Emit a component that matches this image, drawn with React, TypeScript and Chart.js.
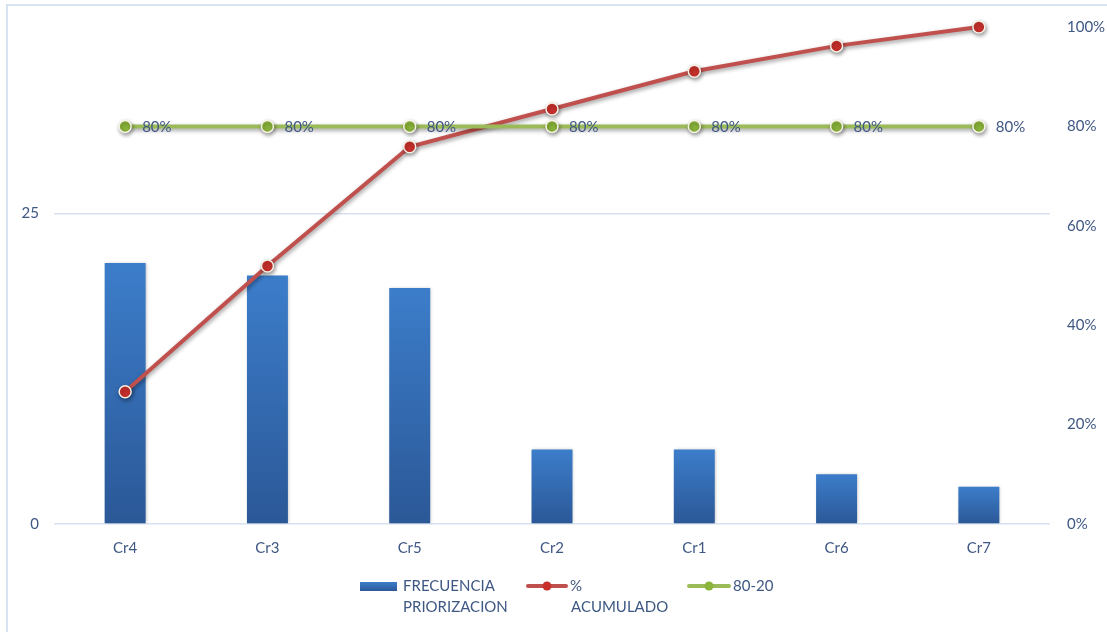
import React, { useEffect, useRef } from "react";
import { Chart, registerables } from "chart.js";

Chart.register(...registerables);

const categories = ["Cr4", "Cr3", "Cr5", "Cr2", "Cr1", "Cr6", "Cr7"];
const frecuencia = [21, 20, 19, 6, 6, 4, 3];
const acumulado = [0.266, 0.519, 0.759, 0.835, 0.911, 0.962, 1.0];
const linea8020 = [0.8, 0.8, 0.8, 0.8, 0.8, 0.8, 0.8];
const leftTickValues = [0, 25];
const seriesNames = [["FRECUENCIA", "PRIORIZACION"], ["%", "ACUMULADO"], ["80-20"]];

const TEXT = "#3e5783";
const FONT = "Lato";
const W = 1107;
const H = 632;

const shadowPlugin = {
  id: "shadowPlugin",
  beforeDatasetDraw(chart: any, args: any) {
    const ctx = chart.ctx;
    ctx.save();
    const type = chart.data.datasets[args.index].type;
    if (type === "line") {
      ctx.shadowColor = "rgba(0,0,0,0.4)";
      ctx.shadowBlur = 4;
      ctx.shadowOffsetY = 2;
      ctx.shadowOffsetX = 1;
    } else {
      ctx.shadowColor = "rgba(0,0,0,0.25)";
      ctx.shadowBlur = 3;
      ctx.shadowOffsetX = 1;
      ctx.shadowOffsetY = 0;
    }
  },
  afterDatasetDraw(chart: any) {
    chart.ctx.restore();
  },
};

const labelPlugin = {
  id: "labelPlugin",
  afterDatasetsDraw(chart: any) {
    const ctx = chart.ctx;
    const meta = chart.getDatasetMeta(2);
    ctx.save();
    ctx.font = `15px ${FONT}`;
    ctx.fillStyle = TEXT;
    ctx.textAlign = "left";
    ctx.textBaseline = "middle";
    meta.data.forEach((pt: any, i: number) => {
      ctx.fillText(Math.round(linea8020[i] * 100) + "%", pt.x + 17, pt.y + 1);
    });
    ctx.restore();
  },
};

const legendPlugin = {
  id: "customLegend",
  afterDraw(chart: any) {
    const ctx = chart.ctx;
    ctx.save();
    ctx.font = `15px ${FONT}`;
    ctx.fillStyle = TEXT;
    ctx.textAlign = "left";
    ctx.textBaseline = "middle";
    const y1 = 586;
    const y2 = 607;
    const g = ctx.createLinearGradient(0, 582, 0, 591);
    g.addColorStop(0, "#3c7dca");
    g.addColorStop(1, "#2b5897");
    ctx.fillStyle = g;
    ctx.fillRect(360, 582, 37, 9);
    ctx.fillStyle = TEXT;
    ctx.fillText(seriesNames[0][0], 403, y1);
    ctx.fillText(seriesNames[0][1], 403, y2);
    const drawLineSwatch = (x0: number, x1: number, color: string, dot: string) => {
      ctx.strokeStyle = color;
      ctx.lineWidth = 4;
      ctx.lineCap = "round";
      ctx.beginPath();
      ctx.moveTo(x0, y1);
      ctx.lineTo(x1, y1);
      ctx.stroke();
      ctx.beginPath();
      ctx.arc((x0 + x1) / 2, y1, 4.5, 0, Math.PI * 2);
      ctx.fillStyle = dot;
      ctx.fill();
    };
    drawLineSwatch(528, 566, "#c0504d", "#c9302c");
    ctx.fillStyle = TEXT;
    ctx.fillText(seriesNames[1][0], 570, y1);
    ctx.fillText(seriesNames[1][1], 571, y2);
    drawLineSwatch(689, 729, "#9bbb59", "#8ab43a");
    ctx.fillStyle = TEXT;
    ctx.fillText(seriesNames[2][0], 733, y1);
    ctx.restore();
  },
};

export default function App() {
  const ref = useRef<HTMLCanvasElement | null>(null);

  useEffect(() => {
    if (!ref.current) return;
    const chart = new Chart(ref.current, {
      type: "bar",
      data: {
        labels: categories,
        datasets: [
          {
            type: "bar",
            label: "FRECUENCIA PRIORIZACION",
            data: frecuencia,
            yAxisID: "y",
            order: 3,
            barPercentage: 1,
            categoryPercentage: 0.288,
            backgroundColor: (c: any) => {
              const chart = c.chart;
              if (!chart.chartArea || c.type !== "data") return "#3577c2";
              const ys = chart.scales.y;
              const top = ys.getPixelForValue(c.raw);
              const bottom = ys.getPixelForValue(0);
              const g = chart.ctx.createLinearGradient(0, top, 0, bottom);
              g.addColorStop(0, "#3c7dca");
              g.addColorStop(1, "#2b5897");
              return g;
            },
            borderWidth: 0,
          } as any,
          {
            type: "line",
            label: "% ACUMULADO",
            data: acumulado,
            yAxisID: "y2",
            order: 2,
            borderColor: "#c0504d",
            borderWidth: 4,
            pointRadius: 6,
            pointBorderWidth: 1.5,
            pointBackgroundColor: "#c9302c",
            pointBorderColor: "#f6efe4",
            tension: 0,
            clip: false,
          } as any,
          {
            type: "line",
            label: "80-20",
            data: linea8020,
            yAxisID: "y2",
            order: 1,
            borderColor: "#9bbb59",
            borderWidth: 4,
            pointRadius: 6,
            pointBorderWidth: 1.5,
            pointBackgroundColor: "#8ab43a",
            pointBorderColor: "#f6f3e4",
            tension: 0,
            clip: false,
          } as any,
        ],
      },
      options: {
        responsive: false,
        animation: false,
        layout: { padding: { top: 27, left: 0, right: 0, bottom: 0 } },
        plugins: {
          legend: { display: false },
          tooltip: { enabled: false },
        },
        scales: {
          x: {
            grid: { display: false, drawTicks: false },
            border: { display: false },
            ticks: { color: TEXT, font: { family: FONT, size: 15 }, padding: 15 },
            afterFit: (s: any) => {
              s.height = H - 524;
            },
          },
          y: {
            position: "left",
            min: 0,
            max: 40,
            afterBuildTicks: (s: any) => {
              s.ticks = leftTickValues.map((v) => ({ value: v }));
            },
            grid: { color: "#d7e1ef", lineWidth: 1.5, drawTicks: false },
            border: { display: false },
            ticks: { color: TEXT, font: { family: FONT, size: 15 }, padding: 15 },
            afterFit: (s: any) => {
              s.width = 54;
            },
          },
          y2: {
            position: "right",
            min: 0,
            max: 1,
            grid: { display: false, drawTicks: false },
            border: { display: false },
            ticks: {
              stepSize: 0.2,
              color: TEXT,
              font: { family: FONT, size: 15 },
              padding: 17,
              callback: (v: any) => Math.round(Number(v) * 100) + "%",
            },
            afterFit: (s: any) => {
              s.width = W - 1050;
            },
          },
        },
      } as any,
      plugins: [shadowPlugin, labelPlugin, legendPlugin],
    });
    return () => chart.destroy();
  }, []);

  return (
    <div
      style={{
        position: "fixed",
        left: 0,
        top: 0,
        width: W,
        height: H,
        overflow: "hidden",
        background: "#ffffff",
      }}
    >
      <div
        style={{
          position: "absolute",
          left: 6,
          top: 4,
          width: 1300,
          height: 900,
          border: "2px solid #d8e3f1",
          boxSizing: "border-box",
        }}
      />
      <canvas
        ref={ref}
        width={W}
        height={H}
        style={{ position: "absolute", left: 0, top: 0, width: W, height: H }}
      />
    </div>
  );
}
